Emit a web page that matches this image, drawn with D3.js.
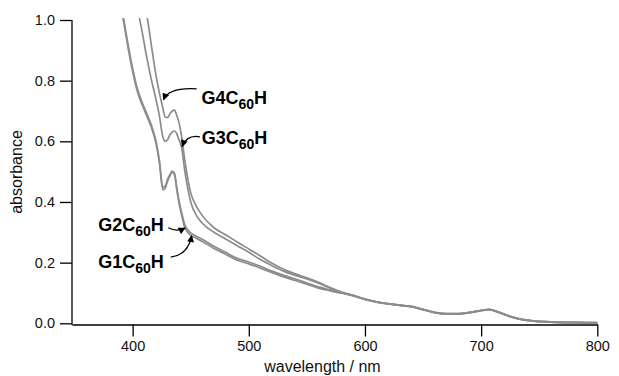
<!DOCTYPE html>
<html>
<head>
<meta charset="utf-8">
<script src="https://cdn.jsdelivr.net/npm/d3@7"></script>
<style>
html,body{margin:0;padding:0;background:#fff;}
text{font-family:"Liberation Sans",Arial,Helvetica,sans-serif;}
</style>
</head>
<body>
<svg id="chart" width="619" height="376"></svg>
<script>
// ---- data ----
const wavelength = [388,392,396,400,404,408,412,416,420,423,426,428,430,432,434,436,438,440,442,445,450,455,460,470,480,490,500,510,520,530,540,550,560,570,580,590,600,610,620,630,640,650,660,670,680,690,700,707,715,725,735,745,760,780,800];
const g1 = [1.09,1.0,0.91,0.83,0.765,0.722,0.685,0.647,0.595,0.53,0.44,0.445,0.468,0.485,0.498,0.49,0.44,0.395,0.36,0.315,0.29,0.28,0.27,0.247,0.228,0.208,0.196,0.182,0.167,0.153,0.141,0.129,0.116,0.107,0.099,0.09,0.079,0.07,0.064,0.059,0.055,0.045,0.035,0.031,0.031,0.035,0.042,0.045,0.036,0.022,0.012,0.007,0.004,0.002,0.001];
const g2 = [1.1,1.01,0.92,0.84,0.775,0.73,0.693,0.655,0.603,0.538,0.448,0.452,0.474,0.49,0.502,0.495,0.448,0.402,0.368,0.324,0.298,0.287,0.277,0.254,0.234,0.214,0.202,0.188,0.172,0.158,0.146,0.133,0.12,0.11,0.101,0.092,0.08,0.071,0.065,0.06,0.056,0.046,0.036,0.032,0.032,0.036,0.043,0.046,0.037,0.023,0.013,0.008,0.005,0.003,0.002];
const g3 = [1.45,1.34,1.22,1.12,1.04,0.965,0.88,0.805,0.74,0.685,0.615,0.6,0.605,0.62,0.63,0.634,0.625,0.605,0.582,0.5,0.4,0.355,0.33,0.3,0.278,0.256,0.234,0.21,0.19,0.172,0.158,0.146,0.132,0.116,0.101,0.091,0.079,0.07,0.064,0.059,0.055,0.045,0.035,0.031,0.031,0.035,0.042,0.045,0.036,0.022,0.012,0.007,0.004,0.002,0.001];
const g4 = [1.62,1.5,1.38,1.26,1.16,1.08,1.02,0.92,0.82,0.76,0.71,0.68,0.678,0.69,0.7,0.703,0.685,0.66,0.62,0.535,0.43,0.385,0.355,0.315,0.292,0.268,0.245,0.222,0.198,0.178,0.163,0.15,0.135,0.118,0.103,0.092,0.08,0.071,0.065,0.06,0.056,0.046,0.036,0.032,0.032,0.036,0.043,0.046,0.037,0.023,0.013,0.008,0.005,0.003,0.002];
const seriesNames = ["G1C60H","G2C60H","G3C60H","G4C60H"];
const xTicks = [400,500,600,700,800];
const yTicks = [0.0,0.2,0.4,0.6,0.8,1.0];
const xLabel = "wavelength / nm";
const yLabel = "absorbance";
// annotation labels: [prefix, subscript, suffix]
const labelText = [["G1C","60","H"],["G2C","60","H"],["G3C","60","H"],["G4C","60","H"]];
const labelPos = [[370.4,0.182],[370.4,0.304],[459.5,0.591],[459.3,0.723]];
// arrows: tail, control, head in data coords
const arrowTail = [[432.8,0.218],[430.7,0.315],[457.9,0.615],[455.1,0.773]];
const arrowCtrl = [[447.9,0.226],[438.0,0.300],[446.5,0.622],[430.7,0.778]];
const arrowHead = [[450.8,0.289],[445.1,0.314],[442.6,0.583],[426.6,0.737]];

// ---- chart ----
const svg = d3.select("#chart");
svg.append("rect").attr("width",619).attr("height",376).attr("fill","#fff");

const x = d3.scaleLinear().domain([347.8, 800]).range([72, 597.3]);
const y = d3.scaleLinear().domain([0, 1]).range([323.3, 20]);

const defs = svg.append("defs");
defs.append("clipPath").attr("id","plotclip").append("rect")
  .attr("x",72).attr("y",18).attr("width",530).attr("height",310);
defs.append("marker").attr("id","ah").attr("viewBox","0 0 10 10")
  .attr("refX",9).attr("refY",5).attr("markerWidth",8).attr("markerHeight",7)
  .attr("markerUnits","userSpaceOnUse").attr("orient","auto")
  .append("path").attr("d","M0,0 L10,5 L0,10 Z").attr("fill","#000");

// axes
const yAxis = d3.axisLeft(y).tickValues(yTicks).tickFormat(d3.format(".1f")).tickSize(12).tickPadding(5).tickSizeOuter(0);
const gy = svg.append("g").attr("transform","translate(72,0)").call(yAxis);
const xAxis = d3.axisBottom(x).tickValues(xTicks).tickFormat(d3.format("d")).tickSize(12).tickPadding(4).tickSizeOuter(0);
const gx = svg.append("g").attr("transform","translate(0,324.5)").call(xAxis);
[gx, gy].forEach(g => {
  g.selectAll("path.domain").attr("stroke","#000").attr("stroke-width",1.3);
  g.selectAll(".tick line").attr("stroke","#000").attr("stroke-width",1.3);
  g.selectAll(".tick text").attr("fill","#111").attr("font-size",14.5).attr("font-family","Liberation Sans, Arial, sans-serif");
});
gy.select("path.domain").attr("d","M0,20V325");

svg.append("text").attr("x",x(563.4)).attr("y",371.5).attr("text-anchor","middle")
  .attr("font-size",16).attr("fill","#111").text(xLabel);
svg.append("text").attr("transform","translate(22,172) rotate(-90)").attr("text-anchor","middle")
  .attr("font-size",16).attr("fill","#111").text(yLabel);

// lines
const line = d3.line().x((d,i)=>x(wavelength[i])).y(d=>y(d)).curve(d3.curveMonotoneX);
const plot = svg.append("g").attr("clip-path","url(#plotclip)");
[g1,g2,g3,g4].forEach((s,k) => {
  plot.append("path").datum(s).attr("d",line)
    .attr("fill","none").attr("stroke","#8c8c8c").attr("stroke-width",1.7)
    .attr("data-name",seriesNames[k]);
});

// annotations
labelText.forEach((t,i) => {
  const tx = svg.append("text").attr("x",x(labelPos[i][0])).attr("y",y(labelPos[i][1]))
    .attr("font-size",18).attr("font-weight","bold").attr("fill","#000");
  tx.append("tspan").text(t[0]);
  tx.append("tspan").attr("font-size",14).attr("dy",5).text(t[1]);
  tx.append("tspan").attr("font-size",18).attr("dy",-5).text(t[2]);
  svg.append("path")
    .attr("d",`M${x(arrowTail[i][0])},${y(arrowTail[i][1])} Q${x(arrowCtrl[i][0])},${y(arrowCtrl[i][1])} ${x(arrowHead[i][0])},${y(arrowHead[i][1])}`)
    .attr("fill","none").attr("stroke","#000").attr("stroke-width",1.3).attr("marker-end","url(#ah)");
});
</script>
</body>
</html>
